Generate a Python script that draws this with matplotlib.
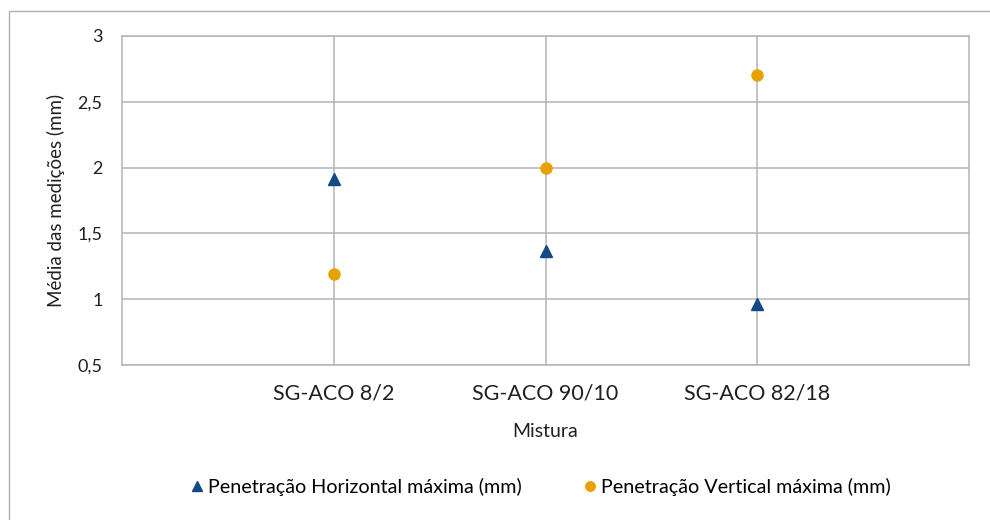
import matplotlib.pyplot as plt
from matplotlib.patches import Rectangle

plt.rcParams['font.family'] = ['Lato', 'DejaVu Sans']

categorias = ['SG-ACO 8/2', 'SG-ACO 90/10', 'SG-ACO 82/18']
pen_horizontal = [1.91, 1.37, 0.96]
pen_vertical = [1.19, 2.00, 2.70]
y_ticks = [0.5, 1, 1.5, 2, 2.5, 3]
y_labels = ['0,5', '1', '1,5', '2', '2,5', '3']

grid_cor = '#B4B4B4'
texto_cor = '#202020'

fig = plt.figure(figsize=(9.9, 5.2), dpi=100)
fig.patches.append(Rectangle((9 / 990, -0.01), 1.0, 1 - 11 / 520 + 0.01,
                             transform=fig.transFigure, fill=False,
                             edgecolor='#B0B0B0', linewidth=1.0))

ax = fig.add_axes([122 / 990, 1 - 365 / 520, 847 / 990, 329 / 520])
x = list(range(1, len(categorias) + 1))
ax.plot(x, pen_horizontal, linestyle='none', marker='^', markersize=8,
        color='#114A84', label='Penetração Horizontal máxima (mm)', zorder=3)
ax.plot(x, pen_vertical, linestyle='none', marker='o', markersize=8,
        color='#E8A200', label='Penetração Vertical máxima (mm)', zorder=3)

ax.set_xlim(0, 4)
ax.set_ylim(0.5, 3)
ax.set_yticks(y_ticks)
ax.set_yticklabels(y_labels, fontsize=13, color=texto_cor)
ax.set_xticks(x)
ax.set_xticklabels(categorias, fontsize=15.5, color=texto_cor)
ax.tick_params(length=0)
ax.tick_params(axis='y', pad=14)
ax.tick_params(axis='x', pad=13)
ax.grid(True, color=grid_cor, linewidth=1.1)
ax.set_axisbelow(True)
for s in ax.spines.values():
    s.set_color(grid_cor)
    s.set_linewidth(1.1)

ax.set_xlabel('Mistura', fontsize=14, color=texto_cor)
ax.xaxis.set_label_coords(0.5, -0.175)
ax.set_ylabel('Média das medições (mm)', fontsize=13.5, color=texto_cor)
ax.yaxis.set_label_coords(-0.067, 0.5)

fig.legend(loc='center', bbox_to_anchor=(539 / 990, 1 - 487 / 520), ncol=2,
           frameon=False, fontsize=14.2, handletextpad=0.05, columnspacing=3.0,
           markerscale=0.85, handlelength=1)

fig.savefig('out.png', dpi=100)
